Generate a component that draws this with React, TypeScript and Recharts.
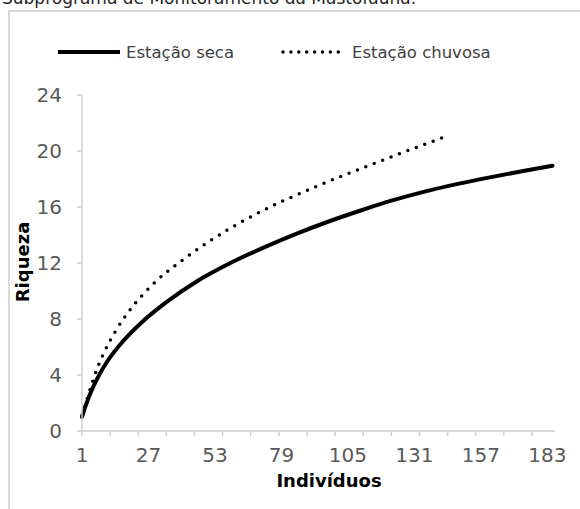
import React from 'react';
import { LineChart, Line, XAxis, YAxis } from 'recharts';

// Rarefaction curves: species richness vs. number of individuals
const chartTitle = 'Subprograma de Monitoramento da Mastofauna.';
const seriesNames = ['Estação seca', 'Estação chuvosa'];

const secaIndividuos = [1, 3, 5, 8, 11, 17, 24, 34, 46, 59, 72, 85, 98, 110, 122, 135, 148, 160, 173, 185];
const secaRiqueza = [1.0, 2.1, 3.0, 4.1, 5.0, 6.4, 7.7, 9.2, 10.7, 12.0, 13.1, 14.1, 15.0, 15.75, 16.45, 17.1, 17.65, 18.1, 18.55, 18.95];

const chuvosaIndividuos = [1, 3, 7, 10, 14, 20, 30, 41, 50, 66, 78, 88, 95, 108, 118, 128, 142];
const chuvosaRiqueza = [1.1, 2.3, 4.5, 5.75, 7.1, 8.7, 10.7, 12.3, 13.45, 15.2, 16.3, 17.1, 17.65, 18.6, 19.3, 20.0, 20.95];

const xLabelTicks = [1, 27, 53, 79, 105, 131, 157, 183];
const xMarkTicks = [1, 12, 23, 34, 45, 56, 67, 78, 89, 100, 111, 122, 133, 144, 155, 166, 177];
const yTicks = [0, 4, 8, 12, 16, 20, 24];

const toRows = (xs: number[], ys: number[]) => xs.map((x, i) => ({ x, y: ys[i] }));
const secaData = toRows(secaIndividuos, secaRiqueza);
const chuvosaData = toRows(chuvosaIndividuos, chuvosaRiqueza);
const allXTicks = Array.from(new Set([...xLabelTicks, ...xMarkTicks])).sort((a, b) => a - b);

const FONT = '"DejaVu Sans", Verdana, sans-serif';
const AXIS_COLOR = '#cfcfcf';
const TICK_COLOR = '#595959';
const TICK_SIZE = 5;
const TICK_MARGIN = 12;

const XTick = (props: any) => {
  const { x, y, payload } = props;
  const v = payload.value;
  const axisY = y - TICK_SIZE - TICK_MARGIN;
  return (
    <g>
      {xMarkTicks.includes(v) && (
        <line x1={x} x2={x} y1={axisY} y2={axisY + TICK_SIZE} stroke={AXIS_COLOR} strokeWidth={1.5} />
      )}
      {xLabelTicks.includes(v) && (
        <text x={x} y={y} dy="0.71em" textAnchor="middle" fill={TICK_COLOR} fontSize={20} fontFamily={FONT}>
          {v}
        </text>
      )}
    </g>
  );
};

const legendItems = [
  { name: seriesNames[0], x: 58, len: 62, textX: 126, dash: undefined as string | undefined, width: 4 },
  { name: seriesNames[1], x: 283, len: 56, textX: 352, dash: '0 7.9', width: 3.5 },
];

export default function App() {
  return (
    <div style={{ position: 'absolute', left: 0, top: 0, width: 580, height: 509, overflow: 'hidden', background: '#fff' }}>
      <div
        style={{
          position: 'absolute',
          left: 8,
          top: 10,
          width: 640,
          height: 640,
          border: '2px solid #d9d9d9',
          boxSizing: 'border-box',
        }}
      />
      <svg width={580} height={509} style={{ position: 'absolute', left: 0, top: 0 }}>
        <text x={2} y={3.5} fontSize={17} fontFamily={FONT} fill="#262626">
          {chartTitle}
        </text>
        {legendItems.map((it) => (
          <g key={it.name}>
            <line
              x1={it.x}
              x2={it.x + it.len}
              y1={52}
              y2={52}
              stroke="#000"
              strokeWidth={it.width}
              strokeDasharray={it.dash}
              strokeLinecap={it.dash ? 'round' : 'butt'}
            />
            <text x={it.textX} y={58} fontSize={16.5} fontFamily={FONT} fill="#404040">
              {it.name}
            </text>
          </g>
        ))}
        <text
          transform="translate(29, 262) rotate(-90)"
          textAnchor="middle"
          fontSize={18}
          fontWeight="bold"
          fontFamily={FONT}
          fill="#000"
        >
          Riqueza
        </text>
        <text x={329} y={487} textAnchor="middle" fontSize={18} fontWeight="bold" fontFamily={FONT} fill="#000">
          Indivíduos
        </text>
      </svg>
      <div style={{ position: 'absolute', left: 0, top: 0 }}>
        <LineChart width={580} height={509} margin={{ top: 95, right: 25, bottom: 38, left: 12 }}>
          <XAxis
            dataKey="x"
            type="number"
            domain={[1, 186]}
            ticks={allXTicks}
            interval={0}
            allowDuplicatedCategory={false}
            height={40}
            tickSize={TICK_SIZE}
            tickMargin={TICK_MARGIN}
            tickLine={false}
            tick={<XTick />}
            axisLine={{ stroke: AXIS_COLOR, strokeWidth: 1.5 }}
          />
          <YAxis
            type="number"
            domain={[0, 24]}
            ticks={yTicks}
            interval={0}
            width={70}
            tickSize={TICK_SIZE}
            tickMargin={15}
            axisLine={{ stroke: AXIS_COLOR, strokeWidth: 1.5 }}
            tickLine={{ stroke: AXIS_COLOR, strokeWidth: 1.5 }}
            tick={{ fill: TICK_COLOR, fontSize: 20, fontFamily: FONT }}
          />
          <Line
            data={secaData}
            dataKey="y"
            name={seriesNames[0]}
            type="monotone"
            stroke="#000"
            strokeWidth={4}
            strokeLinecap="round"
            dot={false}
            activeDot={false}
            isAnimationActive={false}
          />
          <Line
            data={chuvosaData}
            dataKey="y"
            name={seriesNames[1]}
            type="monotone"
            stroke="#000"
            strokeWidth={3.5}
            strokeDasharray="0 9"
            strokeLinecap="round"
            dot={false}
            activeDot={false}
            isAnimationActive={false}
          />
        </LineChart>
      </div>
    </div>
  );
}
